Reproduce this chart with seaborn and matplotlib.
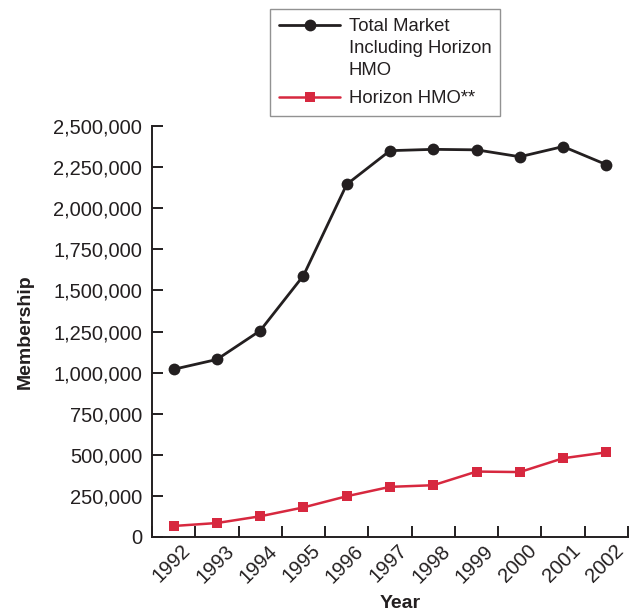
import numpy as np
import pandas as pd
import seaborn as sns
import matplotlib.pyplot as plt
from matplotlib.ticker import FuncFormatter

# values
years = ['1992', '1993', '1994', '1995', '1996', '1997',
         '1998', '1999', '2000', '2001', '2002']
total_market = [1020000, 1080000, 1255000, 1590000, 2145000, 2350000,
                2358000, 2355000, 2313000, 2375000, 2265000]
horizon_hmo = [67000, 85000, 126000, 180000, 248000, 305000,
               315000, 398000, 395000, 479000, 515000]
yticks = list(range(0, 2500001, 250000))

black = '#231f20'
red = '#d7283f'

sns.set_style('white')
plt.rcParams['font.family'] = ['Liberation Sans', 'DejaVu Sans']

df = pd.DataFrame({'pos': range(len(years)),
                   'total': total_market,
                   'horizon': horizon_hmo})

fig = plt.figure(figsize=(6.3, 6.11), dpi=100)
ax = fig.add_axes([152 / 630, 1 - 537 / 611, 476 / 630, 411 / 611])

sns.lineplot(data=df, x='pos', y='total', ax=ax, color=black, marker='o',
             markersize=8.5, markeredgewidth=0, linewidth=2,
             label='Total Market\nIncluding Horizon\nHMO')
sns.lineplot(data=df, x='pos', y='horizon', ax=ax, color=red, marker='s',
             markersize=7, markeredgewidth=0, linewidth=1.8,
             label='Horizon HMO**')

ax.set_xlim(-0.5, len(years) - 0.5)
ax.set_ylim(0, 2500000)
ax.set_yticks(yticks)
ax.yaxis.set_major_formatter(FuncFormatter(lambda v, p: f'{int(v):,}'))

# ticks between categories, labels under the points
ax.set_xticks(np.arange(len(years) + 1) - 0.5)
ax.set_xticklabels([])
ax.set_xticks(np.arange(len(years)) + 0.17, minor=True)
ax.set_xticklabels(years, minor=True, rotation=45, ha='right',
                   rotation_mode='anchor', fontsize=14.5, color=black)
ax.tick_params(axis='x', which='minor', bottom=True, length=0, pad=3)
ax.tick_params(which='major', bottom=True, left=True, direction='in',
               length=8, width=1.4, color=black)
ax.tick_params(axis='y', labelsize=14.5, labelcolor=black, pad=7)

for side in ['top', 'right']:
    ax.spines[side].set_visible(False)
for side in ['left', 'bottom']:
    ax.spines[side].set_color(black)
    ax.spines[side].set_linewidth(1.4)

ax.set_xlabel('Year', fontsize=14, fontweight='bold', color=black)
ax.set_ylabel('Membership', fontsize=14, fontweight='bold', color=black)
ax.xaxis.set_label_coords(0.521, -0.161)
ax.xaxis.label.set_va('center')
ax.yaxis.set_label_coords(-0.267, 0.5)
ax.yaxis.label.set_va('center')

leg = ax.legend(loc='upper left', bbox_to_anchor=(270 / 630, 1 - 9 / 611),
                bbox_transform=fig.transFigure, borderaxespad=0,
                fontsize=13.3, frameon=True, fancybox=False, borderpad=0.5,
                handlelength=3.3, handletextpad=0.45, labelspacing=0.6)
leg.get_frame().set_edgecolor('#777777')
leg.get_frame().set_linewidth(1)
for col in leg._legend_handle_box.get_children():
    for row in col.get_children():
        row.align = 'top'
for t in leg.get_texts():
    t.set_color(black)
    t.set_linespacing(1.38)

fig.savefig('out.png', dpi=100)
